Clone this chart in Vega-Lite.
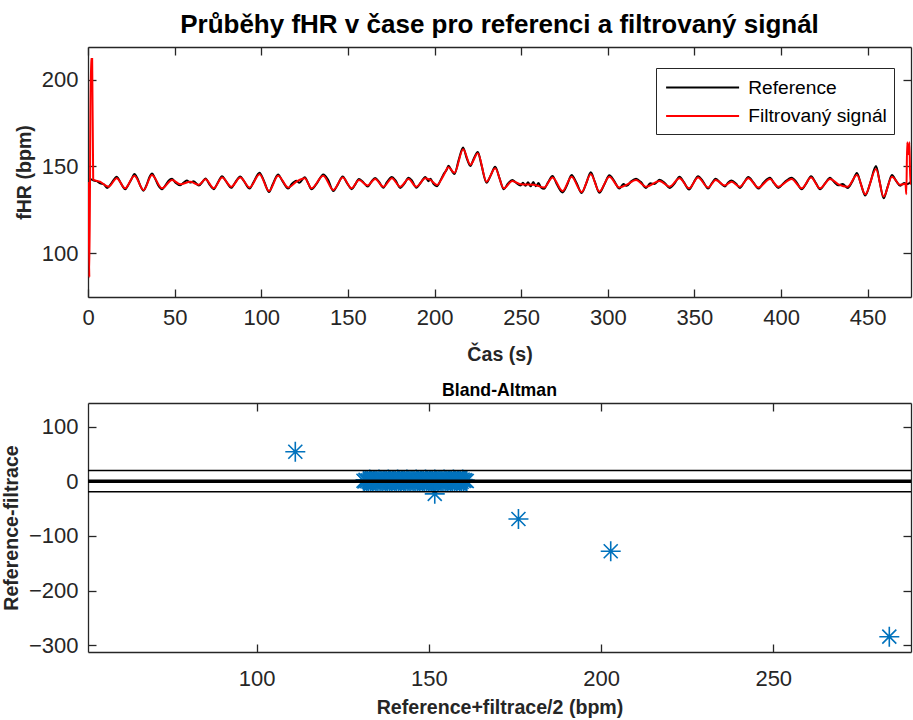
{
  "$schema": "https://vega.github.io/schema/vega-lite/v6.json",
  "background": "white",
  "padding": {"left": 1, "top": 12, "right": 1, "bottom": 1},
  "spacing": 17,
  "datasets": {
    "ref": [
      {"t":1.0,"v":142.8},{"t":3,"v":142},{"t":5,"v":141.5},{"t":7,"v":140.2},{"t":9,"v":139.8},{"t":11,"v":137.6},{"t":12.5,"v":138.9},{"t":14.5,"v":141.8},{"t":16.5,"v":144.0},{"t":18.5,"v":141.2},
      {"t":20,"v":138.5},{"t":21.5,"v":136.8},{"t":23,"v":138.9},{"t":25,"v":142.5},{"t":26.8,"v":145.6},{"t":28.5,"v":143.2},{"t":30.5,"v":138.2},{"t":32,"v":136},{"t":34,"v":139.8},{"t":35.5,"v":144},
      {"t":37,"v":146},{"t":38.5,"v":143.5},{"t":40.5,"v":139.1},{"t":42.7,"v":136.8},{"t":44.5,"v":138.8},{"t":46.5,"v":141.8},{"t":48.5,"v":142.9},{"t":50.5,"v":140.6},{"t":53.3,"v":139.2},{"t":55,"v":140.5},
      {"t":57,"v":141.9},{"t":59,"v":140.7},{"t":61,"v":141.5},{"t":64,"v":139},{"t":66,"v":141},{"t":67.8,"v":143.1},{"t":70,"v":139.8},{"t":72.6,"v":136.9},{"t":74.5,"v":139.9},{"t":77.4,"v":144.3},
      {"t":79.5,"v":141.7},{"t":82.7,"v":137.7},{"t":85,"v":140.8},{"t":87.9,"v":144.2},{"t":90,"v":141.5},{"t":93.3,"v":137.2},{"t":95.5,"v":140.8},{"t":99,"v":146.4},{"t":101.5,"v":141.8},{"t":104.5,"v":135.2},
      {"t":106.5,"v":139.4},{"t":109.7,"v":145.4},{"t":112,"v":142},{"t":115.5,"v":137.2},{"t":117.5,"v":139.8},{"t":120.3,"v":141.8},{"t":122,"v":140.6},{"t":125.1,"v":143.8},{"t":127,"v":140.5},{"t":129,"v":136.8},
      {"t":132,"v":140.1},{"t":135.8,"v":145.4},{"t":138.5,"v":142.4},{"t":141.6,"v":135.8},{"t":144,"v":139.2},{"t":147,"v":144.2},{"t":149.5,"v":140.4},{"t":152.2,"v":136.9},{"t":154,"v":139.2},{"t":156.4,"v":142.8},
      {"t":158.5,"v":141.3},{"t":161.4,"v":138.4},{"t":163.5,"v":141.1},{"t":165.7,"v":143.4},{"t":168,"v":141.1},{"t":170.5,"v":137.7},{"t":172.5,"v":140.9},{"t":175.4,"v":143.9},{"t":177.5,"v":141.9},{"t":180.2,"v":137.6},
      {"t":182.5,"v":139.9},{"t":185,"v":143.5},{"t":187,"v":141.8},{"t":189.5,"v":137.7},{"t":192,"v":140.6},{"t":194.7,"v":143.9},{"t":196.5,"v":141.5},{"t":197.6,"v":142.9},{"t":199.5,"v":139.8},{"t":201.4,"v":138.6},
      {"t":203.5,"v":142.1},{"t":205.3,"v":145.7},{"t":207,"v":148.1},{"t":208,"v":150.4},{"t":210,"v":147.4},{"t":211.5,"v":145.6},{"t":214,"v":154},{"t":216.5,"v":161},{"t":218.5,"v":155},{"t":220.7,"v":150.3},
      {"t":222.5,"v":154.2},{"t":225,"v":158.4},{"t":227,"v":151.2},{"t":230,"v":140.6},{"t":232.5,"v":145},{"t":235,"v":149.8},{"t":237.5,"v":143.2},{"t":240,"v":136.8},{"t":242,"v":139.6},{"t":244.9,"v":142.2},
      {"t":247,"v":140.6},{"t":249.7,"v":139},{"t":251,"v":140.6},{"t":252.5,"v":138.8},{"t":254,"v":140.9},{"t":255.5,"v":138.5},{"t":257,"v":141},{"t":258.5,"v":138.6},{"t":260,"v":140.4},{"t":261.5,"v":137.9},
      {"t":263.2,"v":137.1},{"t":265.5,"v":140.8},{"t":268.1,"v":144.5},{"t":270.5,"v":139.9},{"t":273.9,"v":135},{"t":276.5,"v":139.3},{"t":279.1,"v":145.0},{"t":282,"v":140.4},{"t":284.9,"v":134.6},{"t":287.5,"v":140.1},
      {"t":290.2,"v":146.6},{"t":292.5,"v":141.2},{"t":295.1,"v":134.8},{"t":298,"v":139.6},{"t":300.9,"v":144.9},{"t":303.5,"v":142},{"t":306.7,"v":137.2},{"t":309,"v":139.9},{"t":311,"v":138.8},{"t":313.5,"v":141.4},
      {"t":316.3,"v":142.9},{"t":319,"v":141.1},{"t":322.1,"v":137.6},{"t":324.5,"v":140.3},{"t":327,"v":139.9},{"t":329.9,"v":142.3},{"t":333,"v":140.3},{"t":335.7,"v":137.6},{"t":338.5,"v":140.1},{"t":341.4,"v":144},
      {"t":344,"v":140.8},{"t":346.9,"v":136.7},{"t":349.5,"v":140.6},{"t":352.1,"v":144.4},{"t":355,"v":141.3},{"t":357.9,"v":137.2},{"t":360,"v":140.3},{"t":362.3,"v":142.9},{"t":365,"v":140.4},{"t":367.6,"v":138.4},
      {"t":369.5,"v":140.8},{"t":371.4,"v":141.9},{"t":374,"v":140.1},{"t":376.2,"v":137.6},{"t":378.5,"v":140.5},{"t":381.1,"v":143.9},{"t":384,"v":140.8},{"t":386.9,"v":137.2},{"t":390,"v":140.8},{"t":393.6,"v":143.5},
      {"t":396,"v":140.2},{"t":398.4,"v":137.6},{"t":402,"v":140.9},{"t":406.1,"v":143.5},{"t":409,"v":140.8},{"t":411.9,"v":136.8},{"t":414.5,"v":140.1},{"t":417.3,"v":144.3},{"t":420,"v":140.6},{"t":422.5,"v":136.8},
      {"t":425.5,"v":140.4},{"t":428.3,"v":143.5},{"t":430.5,"v":141.2},{"t":433.1,"v":139.1},{"t":435.5,"v":139.8},{"t":438.5,"v":137.6},{"t":441,"v":141},{"t":443.8,"v":146.2},{"t":446,"v":140.1},{"t":448.6,"v":133.2},
      {"t":451.5,"v":140.6},{"t":454.8,"v":150.2},{"t":457,"v":140.7},{"t":459.2,"v":131.6},{"t":461.5,"v":138.2},{"t":464,"v":145},{"t":466.5,"v":141.5},{"t":468.8,"v":138.8},{"t":471,"v":140.5},{"t":473,"v":139.8},{"t":475,"v":141.2}
    ],
    "filt": [
      {"t":0.2,"v":141},{"t":0.8,"v":86},{"t":1.6,"v":212},{"t":2.4,"v":212},{"t":3.0,"v":142.4},{"t":6.9,"v":141.2},{"t":11.8,"v":138.3},{"t":16.6,"v":143.2},{"t":21.4,"v":137.4},{"t":26.8,"v":144.7},
      {"t":32.1,"v":136.4},{"t":36.9,"v":145.1},{"t":42.7,"v":137.4},{"t":48.5,"v":142.2},{"t":53.3,"v":139.7},{"t":59.1,"v":141.2},{"t":63.9,"v":139.4},{"t":67.8,"v":142.6},{"t":72.6,"v":137.4},{"t":77.4,"v":143.6},
      {"t":82.7,"v":138.3},{"t":87.9,"v":143.6},{"t":93.3,"v":137.8},{"t":99.0,"v":145.5},{"t":104.5,"v":135.8},{"t":109.7,"v":144.7},{"t":115.5,"v":137.8},{"t":120.3,"v":141.2},{"t":125.1,"v":143.2},{"t":129,"v":137.4},
      {"t":135.8,"v":144.7},{"t":141.6,"v":136.4},{"t":147,"v":143.6},{"t":152.2,"v":137.4},{"t":156.4,"v":142.2},{"t":161.4,"v":139},{"t":165.7,"v":142.8},{"t":170.5,"v":138.3},{"t":175.4,"v":143.2},{"t":180.2,"v":138.3},
      {"t":185,"v":142.8},{"t":189.5,"v":138.3},{"t":194.7,"v":143.2},{"t":197.6,"v":142.2},{"t":201.4,"v":139.3},{"t":205.3,"v":145},{"t":208,"v":149.5},{"t":211.5,"v":146.3},{"t":216.5,"v":160},{"t":220.7,"v":151},
      {"t":225,"v":157.6},{"t":230,"v":141.2},{"t":235,"v":149},{"t":240,"v":137.4},{"t":244.9,"v":141.6},{"t":249.7,"v":139.7},{"t":257.4,"v":139.4},{"t":263.2,"v":137.8},{"t":268.1,"v":143.6},{"t":273.9,"v":135.8},
      {"t":279.1,"v":144.1},{"t":284.9,"v":135.3},{"t":290.2,"v":145.5},{"t":295.1,"v":135.5},{"t":300.9,"v":144.1},{"t":306.7,"v":137.8},{"t":311,"v":139.5},{"t":316.3,"v":142.2},{"t":322.1,"v":138.3},{"t":329.9,"v":141.6},
      {"t":335.7,"v":138.3},{"t":341.4,"v":143.2},{"t":346.9,"v":137.4},{"t":352.1,"v":143.6},{"t":357.9,"v":137.8},{"t":362.3,"v":142.2},{"t":367.6,"v":139},{"t":371.4,"v":141.2},{"t":376.2,"v":138.3},{"t":381.1,"v":143.2},
      {"t":386.9,"v":137.8},{"t":393.6,"v":142.8},{"t":398.4,"v":138.3},{"t":406.1,"v":142.8},{"t":411.9,"v":137.4},{"t":417.3,"v":143.6},{"t":422.5,"v":137.4},{"t":428.3,"v":142.8},{"t":433.1,"v":139.7},{"t":438.5,"v":138.3},
      {"t":443.8,"v":145.1},{"t":448.6,"v":133.9},{"t":454.8,"v":148.6},{"t":459.2,"v":132.6},{"t":464,"v":144.1},{"t":468.8,"v":139.4},{"t":471.8,"v":140},{"t":472.3,"v":134},{"t":472.8,"v":164},{"t":473.5,"v":157},
      {"t":474.1,"v":164},{"t":474.6,"v":140},{"t":475,"v":141}
    ],
    "ba": [
      {"m":131.0,"d":1},{"m":131.3,"d":-0.5},{"m":131.6,"d":2.5},{"m":131.9,"d":0},{"m":132.2,"d":1.5},{"m":132.5,"d":-1},{"m":132.8,"d":3},{"m":133.1,"d":0.5},{"m":133.4,"d":2},{"m":133.7,"d":-0.5},
      {"m":134.0,"d":1},{"m":134.3,"d":2.5},{"m":134.6,"d":0},{"m":134.9,"d":1.5},{"m":135.2,"d":-1},{"m":135.5,"d":3},{"m":135.8,"d":0.5},{"m":136.1,"d":2},{"m":136.4,"d":-0.5},{"m":136.7,"d":1},
      {"m":137.0,"d":2.5},{"m":137.3,"d":0},{"m":137.6,"d":1.5},{"m":137.9,"d":-1},{"m":138.2,"d":3},{"m":138.5,"d":0.5},{"m":138.8,"d":2},{"m":139.1,"d":-0.5},{"m":139.4,"d":1},{"m":139.7,"d":2.5},
      {"m":140.0,"d":0},{"m":140.3,"d":1.5},{"m":140.6,"d":-1},{"m":140.9,"d":3},{"m":141.2,"d":0.5},{"m":141.5,"d":2},{"m":141.8,"d":-0.5},{"m":142.1,"d":1},{"m":142.4,"d":2.5},{"m":142.7,"d":0},
      {"m":143.0,"d":1.5},{"m":143.3,"d":-1},{"m":143.6,"d":3},{"m":143.9,"d":0.5},{"m":144.2,"d":2},{"m":144.5,"d":-0.5},{"m":144.8,"d":1},{"m":145.1,"d":2.5},{"m":145.4,"d":0},{"m":145.7,"d":1.5},
      {"m":146.0,"d":-1},{"m":146.3,"d":3},{"m":146.6,"d":0.5},{"m":146.9,"d":2},{"m":147.2,"d":-0.5},{"m":147.5,"d":1},{"m":147.8,"d":2.5},{"m":148.1,"d":0},{"m":148.4,"d":1.5},{"m":148.7,"d":-1},
      {"m":149.0,"d":3},{"m":149.3,"d":0.5},{"m":149.6,"d":2},{"m":149.9,"d":-0.5},{"m":150.2,"d":1},{"m":150.5,"d":2.5},{"m":150.8,"d":0},{"m":151.1,"d":1.5},{"m":151.4,"d":-1},{"m":151.7,"d":3},
      {"m":152.0,"d":0.5},{"m":152.3,"d":2},{"m":152.6,"d":-0.5},{"m":152.9,"d":1},{"m":153.2,"d":2.5},{"m":153.5,"d":0},{"m":153.8,"d":1.5},{"m":154.1,"d":-1},{"m":154.4,"d":3},{"m":154.7,"d":0.5},
      {"m":155.0,"d":2},{"m":155.3,"d":-0.5},{"m":155.6,"d":1},{"m":155.9,"d":2.5},{"m":156.2,"d":0},{"m":156.5,"d":1.5},{"m":156.8,"d":-1},{"m":157.1,"d":3},{"m":157.4,"d":0.5},{"m":157.7,"d":2},
      {"m":158.0,"d":-0.5},{"m":158.3,"d":1},{"m":158.6,"d":2.5},{"m":158.9,"d":0},{"m":159.2,"d":1.5},{"m":159.5,"d":-1},{"m":159.8,"d":3},{"m":160.1,"d":0.5},{"m":160.4,"d":2},{"m":160.7,"d":1},
      {"m":161.0,"d":0.5},
      {"m":151.7,"d":-23},{"m":111.2,"d":54},{"m":176,"d":-69},{"m":202.8,"d":-128},{"m":283.7,"d":-284}
    ],
    "loa": [{"y":19.8},{"y":-19.4}],
    "mean": [{"y":0.2}]
  },
  "vconcat": [
    {
      "width": 823,
      "height": 250,
      "title": {"text": "Průběhy fHR v čase pro referenci a filtrovaný signál", "font": "Liberation Sans", "fontSize": 26, "fontWeight": "bold", "color": "black", "anchor": "middle", "offset": 8},
      "resolve": {"axis": {"x": "independent", "y": "independent"}},
      "layer": [
        {
          "data": {"name": "ref"},
          "mark": {"type": "line", "strokeWidth": 2, "interpolate": "monotone", "clip": true},
          "encoding": {
            "x": {"field": "t", "type": "quantitative", "scale": {"domain": [0, 475], "nice": false}, "axis": {"values": [0,50,100,150,200,250,300,350,400,450], "title": "Čas (s)", "titlePadding": 17}},
            "y": {"field": "v", "type": "quantitative", "scale": {"domain": [74.6, 219], "nice": false, "zero": false}, "axis": {"values": [100,150,200], "title": "fHR (bpm)"}},
            "color": {"datum": "Reference", "type": "nominal", "scale": {"domain": ["Reference", "Filtrovaný signál"], "range": ["#000000", "#FF0000"]},
              "legend": {"title": " ", "titleFontSize": 2, "titlePadding": 1, "orient": "none", "legendX": 568, "legendY": 21, "strokeColor": "#262626", "fillColor": "white", "padding": 7, "symbolType": "M-1.3,0L13.3,0", "symbolSize": 100, "symbolStrokeWidth": 2, "labelFont": "Liberation Sans", "labelFontSize": 19.2, "labelColor": "black", "rowPadding": 8.5, "labelOffset": 66}}
          }
        },
        {
          "data": {"name": "filt"},
          "mark": {"type": "line", "strokeWidth": 2, "interpolate": "monotone", "clip": true},
          "encoding": {
            "x": {"field": "t", "type": "quantitative", "axis": {"orient": "top", "values": [0,50,100,150,200,250,300,350,400,450], "labels": false, "title": null}},
            "y": {"field": "v", "type": "quantitative", "axis": {"orient": "right", "values": [100,150,200], "labels": false, "title": null}},
            "color": {"datum": "Filtrovaný signál", "type": "nominal"}
          }
        }
      ]
    },
    {
      "width": 823,
      "height": 249,
      "title": {"text": "Bland-Altman", "font": "Liberation Sans", "fontSize": 17.7, "fontWeight": "bold", "color": "black", "anchor": "middle", "offset": 3},
      "resolve": {"axis": {"x": "independent", "y": "independent"}},
      "layer": [
        {
          "data": {"name": "ba"},
          "mark": {"type": "point", "shape": "M-1,0L1,0M0,-1L0,1M-0.7,-0.7L0.7,0.7M-0.7,0.7L0.7,-0.7", "size": 400, "strokeWidth": 1.6, "color": "#0072BD", "filled": false, "opacity": 1},
          "encoding": {
            "x": {"field": "m", "type": "quantitative", "scale": {"domain": [51, 290], "nice": false, "zero": false}, "axis": {"values": [100,150,200,250], "title": "Reference+filtrace/2 (bpm)", "labelPadding": 24, "titlePadding": 9}},
            "y": {"field": "d", "type": "quantitative", "scale": {"domain": [-312, 143], "nice": false, "zero": false}, "axis": {"values": [-300,-200,-100,0,100], "title": "Reference-filtrace"}}
          }
        },
        {
          "data": {"name": "loa"},
          "mark": {"type": "rule", "color": "black", "strokeWidth": 1.5},
          "encoding": {"y": {"field": "y", "type": "quantitative", "axis": null}}
        },
        {
          "data": {"name": "mean"},
          "mark": {"type": "rule", "color": "black", "strokeWidth": 3.5},
          "encoding": {"y": {"field": "y", "type": "quantitative", "axis": null}}
        },
        {
          "data": {"name": "ba"},
          "mark": {"type": "point", "opacity": 0},
          "encoding": {
            "x": {"field": "m", "type": "quantitative", "axis": {"orient": "top", "values": [100,150,200,250], "labels": false, "title": null}},
            "y": {"field": "d", "type": "quantitative", "axis": {"orient": "right", "values": [-300,-200,-100,0,100], "labels": false, "title": null}}
          }
        }
      ]
    }
  ],
  "config": {
    "view": {"stroke": null},
    "axis": {
      "grid": false,
      "domainColor": "#262626",
      "domainWidth": 1.3,
      "tickColor": "#262626",
      "tickWidth": 1.3,
      "tickSize": -8,
      "labelPadding": 18,
      "labelFont": "Liberation Sans",
      "labelFontSize": 22,
      "labelColor": "#262626",
      "labelFlush": false,
      "labelOverlap": false,
      "titleFont": "Liberation Sans",
      "titleFontSize": 19.6,
      "titleFontWeight": "bold",
      "titleColor": "#262626",
      "titlePadding": 7
    }
  }
}
